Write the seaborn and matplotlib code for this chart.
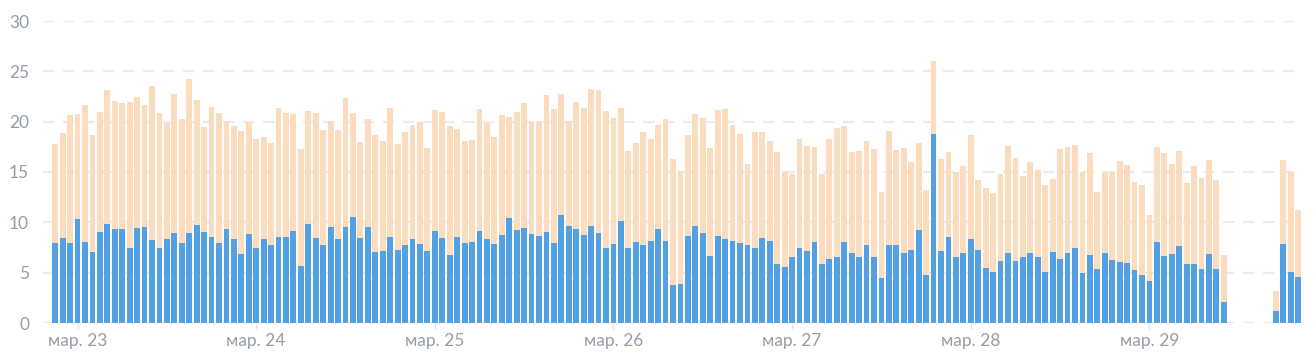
import numpy as np
import pandas as pd
import matplotlib
matplotlib.use("Agg")
import matplotlib.pyplot as plt
import seaborn as sns

# ---- data (hourly, starting 22 Mar 21:00) ----
start = "2024-03-22 21:00"
n_hours = 168

total_vals = [
    17.8, 18.9, 20.7, 20.8, 21.7, 18.7, 21.0, 23.1, 22.1, 21.9, 22.0, 22.5, 21.7, 23.5, 20.9, 19.9,
    22.7, 20.3, 24.2, 22.2, 19.5, 21.5, 20.9, 20.1, 19.6, 19.1, 20.0, 18.3, 18.5, 17.9, 21.4, 20.9,
    20.8, 17.3, 21.1, 20.9, 19.2, 20.1,
    19.2, 22.4, 20.9, 18.0, 20.3, 18.7, 18.1, 21.4, 17.8, 19.0, 19.7, 20.0, 17.4, 21.2, 21.0, 19.6,
    19.3, 18.1, 18.2, 21.3, 19.9, 18.5, 20.7, 20.5, 21.0, 21.9, 20.0, 20.1, 22.6, 21.3, 22.7, 20.1,
    22.0, 21.4, 23.2, 23.1, 21.1, 20.4, 21.4, 17.1, 17.9, 19.0, 18.3,
    19.7, 20.3, 16.3, 15.1, 18.7, 20.8, 20.4, 17.4, 21.2, 21.3, 19.7, 18.8, 15.8, 19.0, 19.0, 18.1,
    17.0, 15.0, 14.8, 18.3, 17.6, 17.5, 14.8, 18.3, 19.4, 19.6, 17.0, 17.1, 18.1, 17.3, 13.0, 19.1,
    17.2, 17.4, 16.0, 17.9, 13.2, 26.0, 16.3, 17.0, 15.0, 15.6, 18.7,
    14.2, 13.4, 12.9, 14.8, 17.6, 16.4, 14.6, 16.0, 15.2, 13.7, 14.3, 17.3, 17.5, 17.7, 15.0, 16.9,
    13.0, 15.0, 15.0, 16.1, 15.7, 14.0, 13.7, 10.7, 17.5, 16.9, 15.8, 17.1, 13.9, 15.6, 14.4, 16.2,
    14.2, 6.8,
    np.nan, np.nan, np.nan, np.nan, np.nan, np.nan,
    3.2, 16.2, 15.0, 11.2,
]

blue_vals = [
    7.9, 8.4, 7.9, 10.3, 8.0, 7.1, 9.0, 9.8, 9.3, 9.3, 7.5, 9.4, 9.5, 8.2, 7.5, 8.3,
    8.9, 7.9, 8.9, 9.7, 9.0, 8.5, 7.9, 9.3, 8.3, 6.9, 8.8, 7.5, 8.3, 7.7, 8.5, 8.5,
    9.1, 5.7, 9.8, 8.4, 7.7, 9.5,
    8.3, 9.5, 10.5, 8.4, 9.5, 7.1, 7.2, 8.5, 7.3, 7.7, 8.3, 7.8, 7.2, 9.1, 8.4, 6.8,
    8.5, 7.9, 8.0, 9.1, 8.3, 7.8, 8.7, 10.4, 9.2, 9.4, 8.8, 8.6, 9.0, 7.9, 10.7, 9.6,
    9.3, 8.7, 9.6, 8.9, 7.5, 7.8, 10.1, 7.5, 8.0, 7.7, 8.1,
    9.3, 8.1, 3.8, 3.9, 8.6, 9.6, 8.9, 6.7, 8.6, 8.3, 8.1, 7.9, 7.7, 7.5, 8.4, 8.1,
    5.9, 5.6, 6.6, 7.5, 7.2, 8.0, 5.9, 6.4, 6.6, 8.0, 7.0, 6.6, 7.7, 6.6, 4.5, 7.7,
    7.7, 7.0, 7.3, 9.2, 4.8, 18.8, 7.2, 8.5, 6.6, 7.0, 8.3,
    7.3, 5.5, 5.1, 6.2, 7.0, 6.2, 6.6, 7.0, 6.6, 5.1, 7.1, 6.4, 7.0, 7.5, 5.0, 6.8,
    5.4, 7.0, 6.3, 6.1, 6.0, 5.3, 4.8, 4.2, 8.0, 6.7, 6.9, 7.6, 5.9, 5.9, 5.4, 6.9,
    5.4, 2.1,
    np.nan, np.nan, np.nan, np.nan, np.nan, np.nan,
    1.2, 7.8, 5.1, 4.6,
]

month_label = "мар."
y_ticks = [0, 5, 10, 15, 20, 25, 30]

# ---- build table ----
times = pd.date_range(start, periods=n_hours, freq="h")
df = pd.DataFrame({
    "pos": np.arange(n_hours),
    "time": times,
    "total": total_vals,
    "blue": blue_vals,
})
df_plot = df.dropna()

tick_rows = df[df["time"].dt.hour == 0]
tick_pos = tick_rows["pos"].tolist()
tick_labels = [f"{month_label} {d.day}" for d in tick_rows["time"]]

# ---- style ----
sns.set_theme(style="white")
plt.rcParams["font.family"] = ["Lato", "DejaVu Sans"]

blue = "#53a0e2"
peach = "#fbdcbe"
label_col = "#939ea8"
grid_col = "#ebebeb"

W, H = 1316, 354
fig = plt.figure(figsize=(W / 100, H / 100), dpi=100)
ax = fig.add_axes([43 / W, 31 / H, (1302 - 43) / W, 302 / H])

sns.barplot(data=df_plot, x="pos", y="total", native_scale=True, color=peach,
            width=0.78, saturation=1, linewidth=0, ax=ax, zorder=2)
sns.barplot(data=df_plot, x="pos", y="blue", native_scale=True, color=blue,
            width=0.78, saturation=1, linewidth=0, ax=ax, zorder=3)

ax.set_ylim(0, 30)
ax.set_xlim(-1.64, 167.5)
ax.set_yticks(y_ticks)
ax.set_xticks(tick_pos)
ax.set_xticklabels(tick_labels)
ax.set_xlabel("")
ax.set_ylabel("")

for yv in y_ticks:
    ax.axhline(yv, color=grid_col, lw=1.6, ls=(0, (5, 4)), zorder=1)

for s in ax.spines.values():
    s.set_visible(False)

ax.tick_params(axis="y", length=0, pad=10, labelsize=12.5, labelcolor=label_col)
ax.tick_params(axis="x", length=4, width=1, color="#e3e3e3", pad=3,
               labelsize=12.5, labelcolor=label_col, bottom=True)

fig.savefig("out.png", dpi=100)
